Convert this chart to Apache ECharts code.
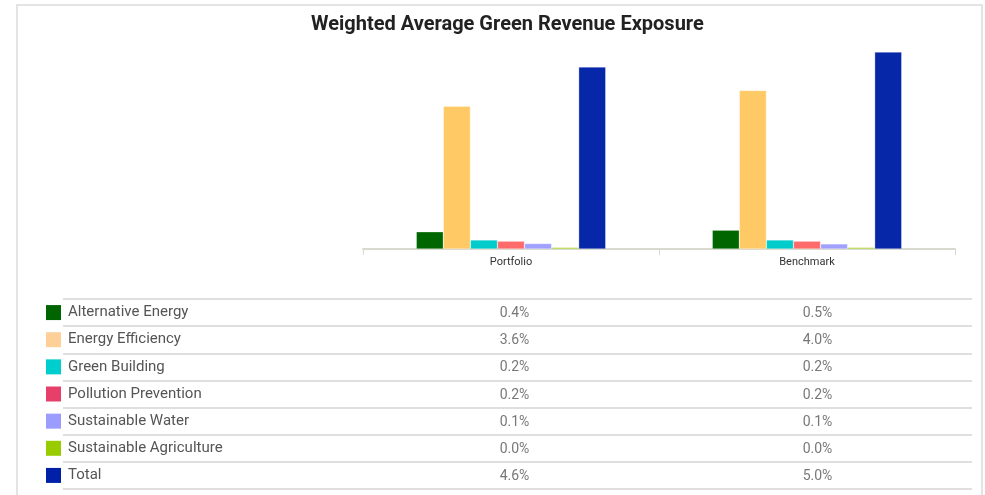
<!DOCTYPE html>
<html>
<head>
<meta charset="utf-8">
<script src="https://cdn.jsdelivr.net/npm/echarts@6/dist/echarts.min.js"></script>
<style>
html,body{margin:0;padding:0;background:#fff;}
#chart{width:985px;height:495px;}
</style>
</head>
<body>
<div id="chart"></div>
<script>
const titleText = 'Weighted Average Green Revenue Exposure';
const categories = ['Portfolio', 'Benchmark'];
const sectors = ['Alternative Energy', 'Energy Efficiency', 'Green Building', 'Pollution Prevention', 'Sustainable Water', 'Sustainable Agriculture', 'Total'];
const portfolio = [0.44, 3.64, 0.23, 0.20, 0.14, 0.04, 4.64];
const benchmark = [0.48, 4.04, 0.23, 0.20, 0.13, 0.04, 5.02];
const tableColumns = ['', 'Portfolio', 'Benchmark'];

const barColors = ['#006600', '#ffc966', '#00cccc', '#ff6b6b', '#a0a0ff', '#99cc00', '#0527a8'];
const legendColors = ['#006400', '#ffcf98', '#00cdcd', '#e6406a', '#9c9cff', '#99cc00', '#0020a8'];

const chart = echarts.init(document.getElementById('chart'), null, {renderer: 'canvas'});

const barSeries = sectors.map((name, i) => ({
  name: name,
  type: 'bar',
  xAxisIndex: 0,
  yAxisIndex: 0,
  barGap: '0%',
  barCategoryGap: '36%',
  data: [portfolio[i], benchmark[i]],
  itemStyle: {color: barColors[i], borderColor: 'rgba(255,255,255,0.6)', borderWidth: 0.5},
  emphasis: {disabled: true}
}));

const tableData = [];
sectors.forEach((s, i) => {
  tableData.push([1, i, portfolio[i]]);
  tableData.push([2, i, benchmark[i]]);
});

const rich = {t: {fontFamily: 'Roboto', fontSize: 15, color: '#555', padding: [0, 0, 0, 7]}};
legendColors.forEach((c, i) => {
  rich['s' + i] = {width: 15, height: 15, backgroundColor: c};
});

chart.setOption({
  animation: false,
  textStyle: {fontFamily: 'Roboto'},
  title: {
    text: titleText,
    left: 306,
    top: 10,
    textStyle: {fontFamily: 'Roboto', fontWeight: 'bold', fontSize: 20, color: '#222'}
  },
  graphic: [{
    type: 'rect',
    shape: {x: 17, y: 5, width: 965, height: 500},
    style: {fill: 'none', stroke: '#dcdcdc', lineWidth: 1.5},
    silent: true,
    z: -1
  }],
  grid: [
    {left: 363, right: 30, top: 45, bottom: 246},
    {left: 63, right: 13, top: 299, bottom: 6}
  ],
  xAxis: [
    {
      type: 'category',
      gridIndex: 0,
      data: categories,
      axisLine: {lineStyle: {color: '#d9d9cf', width: 2}},
      axisTick: {show: true, length: 6, interval: 0, lineStyle: {color: '#d9d9cf', width: 1}},
      axisLabel: {fontFamily: 'Roboto', fontSize: 11, color: '#333', margin: 8}
    },
    {
      type: 'category',
      gridIndex: 1,
      data: tableColumns,
      show: false
    }
  ],
  yAxis: [
    {type: 'value', gridIndex: 0, min: 0, max: 5.2, show: false},
    {
      type: 'category',
      gridIndex: 1,
      data: sectors,
      inverse: true,
      axisLine: {show: false},
      axisTick: {show: false},
      splitLine: {show: true, interval: 0, lineStyle: {color: '#d4d4d4', width: 1.5}},
      axisLabel: {
        interval: 0,
        align: 'left',
        margin: 17,
        formatter: (v, idx) => '{s' + idx + '|}{t|' + v + '}',
        rich: rich
      }
    }
  ],
  series: barSeries.concat([{
    type: 'scatter',
    xAxisIndex: 1,
    yAxisIndex: 1,
    symbolSize: 1,
    itemStyle: {color: 'rgba(0,0,0,0)'},
    data: tableData,
    label: {
      show: true,
      position: 'inside',
      offset: [-3, 1],
      fontFamily: 'Roboto',
      fontSize: 14,
      color: '#555',
      formatter: p => p.value[2].toFixed(1) + '%'
    },
    emphasis: {disabled: true}
  }])
});
</script>
</body>
</html>
